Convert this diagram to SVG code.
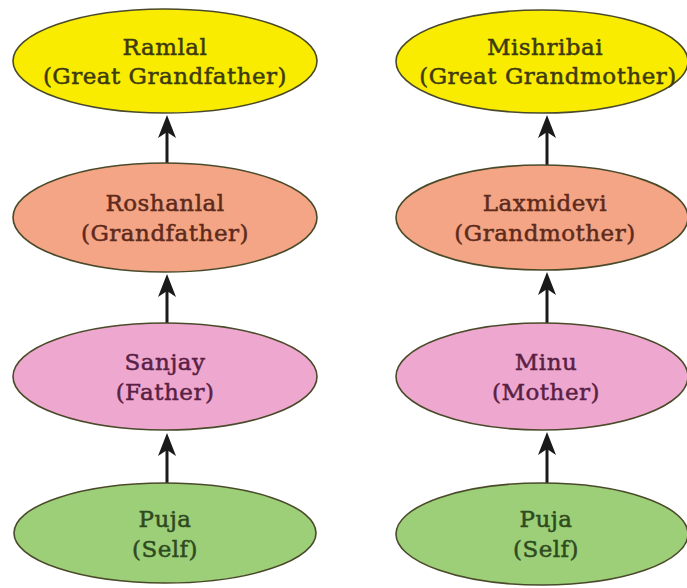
<svg xmlns="http://www.w3.org/2000/svg" width="687" height="588" viewBox="0 0 687 588">
<style>
  .node ellipse { stroke: #4a4a2a; stroke-width: 1.6; }
  .yellow ellipse { fill: #f9ec00; }
  .salmon ellipse { fill: #f3a585; }
  .pink ellipse { fill: #eea8cf; }
  .green ellipse { fill: #9ccf78; }
  text { font-family: "DejaVu Serif", "Liberation Serif", serif; font-size: 23px; letter-spacing: 0.5px; text-anchor: middle; stroke-width: 0.5px; }
  .yellow text { fill: #3d3a12; stroke: #3d3a12; }
  .salmon text { fill: #5e2a1c; stroke: #5e2a1c; }
  .pink text { fill: #5a1f44; stroke: #5a1f44; }
  .green text { fill: #2e4a1f; stroke: #2e4a1f; }
  .conn line { stroke: #1a1a1a; stroke-width: 3; }
</style>
<defs>
  <marker id="ah" markerUnits="userSpaceOnUse" markerWidth="30" markerHeight="24" viewBox="-24 -12 30 24" refX="0" refY="0" orient="auto">
    <path d="M6,0 L-17,-9 L-11,0 L-17,9 Z" fill="#1a1a1a"/>
  </marker>
</defs>
<rect width="687" height="588" fill="#ffffff"/>

<g id="connectors" class="conn">
  <line x1="167" y1="163" x2="167" y2="121" marker-end="url(#ah)"/>
  <line x1="167" y1="323" x2="167" y2="280" marker-end="url(#ah)"/>
  <line x1="167" y1="483" x2="167" y2="439" marker-end="url(#ah)"/>
  <line x1="547" y1="165" x2="547" y2="121" marker-end="url(#ah)"/>
  <line x1="547" y1="323" x2="547" y2="278" marker-end="url(#ah)"/>
  <line x1="547" y1="483" x2="547" y2="438" marker-end="url(#ah)"/>
</g>

<g id="ramlal" class="node yellow">
  <ellipse cx="165" cy="61" rx="152" ry="52"/>
  <text x="165" y="55">Ramlal</text>
  <text x="165" y="84">(Great Grandfather)</text>
</g>
<g id="roshanlal" class="node salmon">
  <ellipse cx="165" cy="217.5" rx="152" ry="54.5"/>
  <text x="165" y="211">Roshanlal</text>
  <text x="165" y="241">(Grandfather)</text>
</g>
<g id="sanjay" class="node pink">
  <ellipse cx="165" cy="376.5" rx="152" ry="53.5"/>
  <text x="165" y="370">Sanjay</text>
  <text x="165" y="400">(Father)</text>
</g>
<g id="puja-left" class="node green">
  <ellipse cx="165" cy="533" rx="151" ry="50"/>
  <text x="165" y="527">Puja</text>
  <text x="165" y="557">(Self)</text>
</g>

<g id="mishribai" class="node yellow">
  <ellipse cx="542" cy="61.5" rx="146" ry="51.5"/>
  <text x="545" y="55">Mishribai</text>
  <text x="548" y="84">(Great Grandmother)</text>
</g>
<g id="laxmidevi" class="node salmon">
  <ellipse cx="542" cy="217.5" rx="146" ry="52.5"/>
  <text x="545" y="211">Laxmidevi</text>
  <text x="545" y="241">(Grandmother)</text>
</g>
<g id="minu" class="node pink">
  <ellipse cx="542" cy="376.5" rx="146" ry="53.5"/>
  <text x="546" y="370">Minu</text>
  <text x="546" y="400">(Mother)</text>
</g>
<g id="puja-right" class="node green">
  <ellipse cx="542" cy="534" rx="146" ry="51"/>
  <text x="546" y="527">Puja</text>
  <text x="546" y="557">(Self)</text>
</g>
</svg>
